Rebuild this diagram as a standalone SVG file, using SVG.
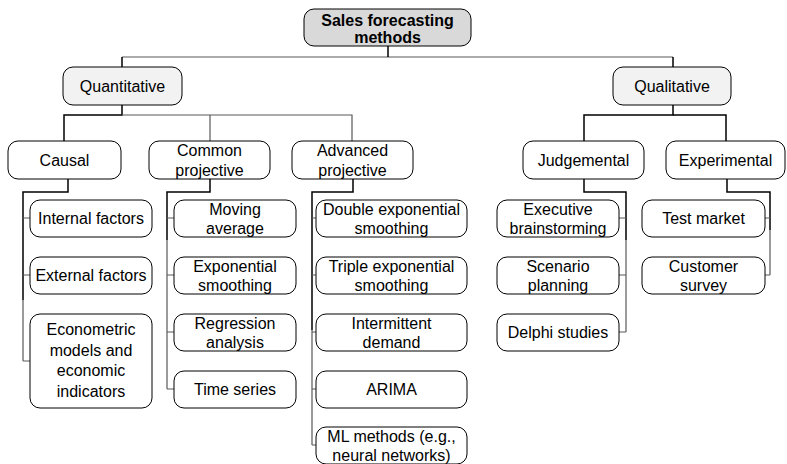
<svg xmlns="http://www.w3.org/2000/svg" width="787" height="464" viewBox="0 0 787 464">
<style>
.b{fill:#fff;stroke:#000;stroke-width:1}
.l1{fill:#f2f2f2;stroke:#000;stroke-width:1}
.r{fill:#d9d9d9;stroke:#000;stroke-width:1}
text{font-family:"Liberation Sans",Arial,sans-serif;font-size:16px;fill:#000;text-anchor:middle}
.bold{font-weight:bold}
.c1{fill:none;stroke:#000;stroke-width:1.5}
.c2{fill:none;stroke:#595959;stroke-width:1.2}
</style>
<rect width="787" height="464" fill="#fff"/>
<g id="connectors">
<path class="c2" d="M122,57 H673"/>
<path class="c1" d="M388,46 V57"/>
<path class="c1" d="M122,57 V67 M673,57 V67"/>
<path class="c1" d="M122,105 V115 H64 V141"/>
<path class="c2" d="M122,115 H352 V141 M210,115 V141"/>
<path class="c1" d="M673,105 V115 H584 V141"/>
<path class="c1" d="M673,115 H726 V141"/>
<path class="c1" d="M68,179 V192 H23 V300"/>
<path class="c2" d="M23,300 V361 M23,218 H30 M23,275 H30 M23,361 H30"/>
<path class="c1" d="M210,179 V192 H167 V240"/>
<path class="c2" d="M167,240 V389 M167,218 H174 M167,275 H174 M167,332 H174 M167,389 H174"/>
<path class="c1" d="M353,179 V192 H312 V330"/>
<path class="c2" d="M312,330 V445 M312,218 H316 M312,275 H316 M312,332 H316 M312,389 H316 M312,445 H316"/>
<path class="c1" d="M584,179 V192 H626 V240"/>
<path class="c2" d="M626,240 V332 M626,218 H619 M626,275 H619 M626,332 H619"/>
<path class="c1" d="M727,179 V192 H770 V230"/>
<path class="c2" d="M770,230 V275 M770,218 H765 M770,275 H765"/>
</g>
<g id="root">
<rect class="r" x="304" y="9" width="167" height="37" rx="10"/>
<text class="bold" x="387.5" y="26">Sales forecasting</text>
<text class="bold" x="387.5" y="43">methods</text>
</g>
<g id="quantitative">
<rect class="l1" x="63" y="67" width="119" height="38" rx="10"/>
<text x="122.5" y="92">Quantitative</text>
</g>
<g id="qualitative">
<rect class="l1" x="613" y="67" width="118" height="38" rx="10"/>
<text x="672" y="92">Qualitative</text>
</g>
<g id="causal">
<rect class="b" x="8" y="141" width="113" height="38" rx="10"/>
<text x="64.5" y="165.5">Causal</text>
</g>
<g id="common-projective">
<rect class="b" x="149" y="141" width="121" height="38" rx="10"/>
<text x="209.5" y="156">Common</text>
<text x="209.5" y="175.5">projective</text>
</g>
<g id="advanced-projective">
<rect class="b" x="292" y="141" width="121" height="38" rx="10"/>
<text x="352.5" y="156">Advanced</text>
<text x="352.5" y="175.5">projective</text>
</g>
<g id="judgemental">
<rect class="b" x="523" y="141" width="121" height="38" rx="10"/>
<text x="583.5" y="165.5">Judgemental</text>
</g>
<g id="experimental">
<rect class="b" x="666" y="141" width="119" height="38" rx="10"/>
<text x="725.5" y="165.5">Experimental</text>
</g>
<g id="internal-factors">
<rect class="b" x="30" y="200" width="122" height="37" rx="10"/>
<text x="91" y="224">Internal factors</text>
</g>
<g id="external-factors">
<rect class="b" x="30" y="257" width="122" height="37" rx="10"/>
<text x="91" y="281">External factors</text>
</g>
<g id="econometric">
<rect class="b" x="30" y="314" width="122" height="94" rx="10"/>
<text x="91" y="335">Econometric</text>
<text x="91" y="355.5">models and</text>
<text x="91" y="376">economic</text>
<text x="91" y="396.5">indicators</text>
</g>
<g id="moving-average">
<rect class="b" x="174" y="200" width="122" height="37" rx="10"/>
<text x="235" y="215">Moving</text>
<text x="235" y="234">average</text>
</g>
<g id="exponential-smoothing">
<rect class="b" x="174" y="257" width="122" height="37" rx="10"/>
<text x="235" y="272">Exponential</text>
<text x="235" y="291">smoothing</text>
</g>
<g id="regression-analysis">
<rect class="b" x="174" y="314" width="122" height="37" rx="10"/>
<text x="235" y="329">Regression</text>
<text x="235" y="348">analysis</text>
</g>
<g id="time-series">
<rect class="b" x="174" y="371" width="122" height="37" rx="10"/>
<text x="235" y="395">Time series</text>
</g>
<g id="double-exponential">
<rect class="b" x="316" y="200" width="151" height="37" rx="10"/>
<text x="391.5" y="215">Double exponential</text>
<text x="391.5" y="234">smoothing</text>
</g>
<g id="triple-exponential">
<rect class="b" x="316" y="257" width="151" height="37" rx="10"/>
<text x="391.5" y="272">Triple exponential</text>
<text x="391.5" y="291">smoothing</text>
</g>
<g id="intermittent-demand">
<rect class="b" x="316" y="314" width="151" height="37" rx="10"/>
<text x="391.5" y="329">Intermittent</text>
<text x="391.5" y="348">demand</text>
</g>
<g id="arima">
<rect class="b" x="316" y="371" width="151" height="37" rx="10"/>
<text x="391.5" y="395">ARIMA</text>
</g>
<g id="ml-methods">
<rect class="b" x="316" y="427" width="151" height="37" rx="10"/>
<text x="391.5" y="442">ML methods (e.g.,</text>
<text x="391.5" y="461">neural networks)</text>
</g>
<g id="executive-brainstorming">
<rect class="b" x="497" y="200" width="122" height="37" rx="10"/>
<text x="558" y="215">Executive</text>
<text x="558" y="234">brainstorming</text>
</g>
<g id="scenario-planning">
<rect class="b" x="497" y="257" width="122" height="37" rx="10"/>
<text x="558" y="272">Scenario</text>
<text x="558" y="291">planning</text>
</g>
<g id="delphi-studies">
<rect class="b" x="497" y="314" width="122" height="37" rx="10"/>
<text x="558" y="338">Delphi studies</text>
</g>
<g id="test-market">
<rect class="b" x="642" y="200" width="123" height="37" rx="10"/>
<text x="703.5" y="224">Test market</text>
</g>
<g id="customer-survey">
<rect class="b" x="642" y="257" width="123" height="37" rx="10"/>
<text x="703.5" y="272">Customer</text>
<text x="703.5" y="291">survey</text>
</g>
</svg>
